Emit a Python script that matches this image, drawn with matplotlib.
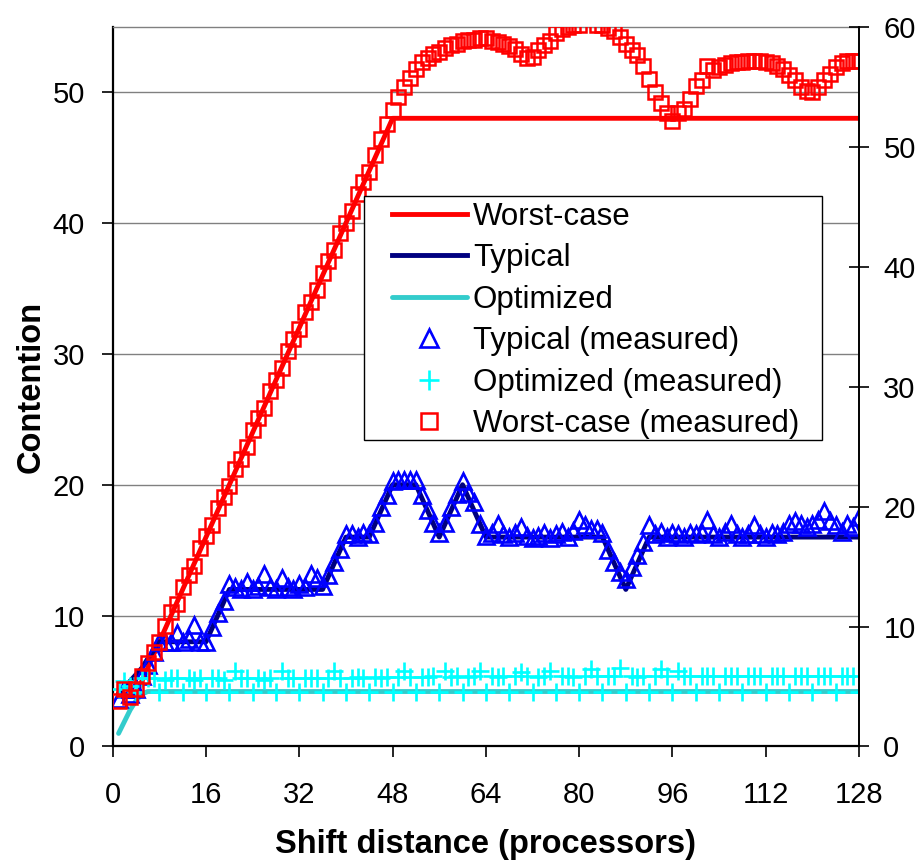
import matplotlib.pyplot as plt
from matplotlib.patches import Rectangle

plt.rcParams['font.family'] = ['Liberation Sans', 'DejaVu Sans']

# shift distance, one point per processor offset
shift = list(range(1, 129))

worst_line = [
    4, 4, 4, 4, 5, 6, 7, 8, 9, 10, 11, 12, 13, 14, 15, 16,
    17, 18, 19, 20, 21, 22, 23, 24, 25, 26, 27, 28, 29, 30, 31, 32,
    33, 34, 35, 36, 37, 38, 39, 40, 41, 42, 43, 44, 45, 46, 47, 48,
    48, 48, 48, 48, 48, 48, 48, 48, 48, 48, 48, 48, 48, 48, 48, 48,
    48, 48, 48, 48, 48, 48, 48, 48, 48, 48, 48, 48, 48, 48, 48, 48,
    48, 48, 48, 48, 48, 48, 48, 48, 48, 48, 48, 48, 48, 48, 48, 48,
    48, 48, 48, 48, 48, 48, 48, 48, 48, 48, 48, 48, 48, 48, 48, 48,
    48, 48, 48, 48, 48, 48, 48, 48, 48, 48, 48, 48, 48, 48, 48, 48,
]

typical_line = [
    4, 4.5, 5, 5.5, 6, 6.7, 7.3, 8, 8, 8, 8, 8, 8, 8, 8, 8,
    9, 10, 11, 12, 12, 12, 12, 12, 12, 12, 12, 12, 12, 12, 12, 12,
    12, 12, 12, 12, 13, 14, 15, 16, 16, 16, 16, 16, 17, 18, 19, 20,
    20, 20, 20, 20, 19, 18, 17, 16, 17, 18, 19, 20, 19, 18, 17, 16,
    16, 16, 16, 16, 16, 16, 16, 16, 16, 16, 16, 16, 16, 16, 16, 16,
    16, 16, 16, 16, 15, 14, 13, 12, 13, 14, 15, 16, 16, 16, 16, 16,
    16, 16, 16, 16, 16, 16, 16, 16, 16, 16, 16, 16, 16, 16, 16, 16,
    16, 16, 16, 16, 16, 16, 16, 16, 16, 16, 16, 16, 16, 16, 16, 16,
]

optimized_line = [
    1.0, 1.9, 2.8, 3.5, 4.0, 4.2, 4.2, 4.2, 4.2, 4.2, 4.2, 4.2, 4.2, 4.2, 4.2, 4.2,
    4.2, 4.2, 4.2, 4.2, 4.2, 4.2, 4.2, 4.2, 4.2, 4.2, 4.2, 4.2, 4.2, 4.2, 4.2, 4.2,
    4.2, 4.2, 4.2, 4.2, 4.2, 4.2, 4.2, 4.2, 4.2, 4.2, 4.2, 4.2, 4.2, 4.2, 4.2, 4.2,
    4.2, 4.2, 4.2, 4.2, 4.2, 4.2, 4.2, 4.2, 4.2, 4.2, 4.2, 4.2, 4.2, 4.2, 4.2, 4.2,
    4.2, 4.2, 4.2, 4.2, 4.2, 4.2, 4.2, 4.2, 4.2, 4.2, 4.2, 4.2, 4.2, 4.2, 4.2, 4.2,
    4.2, 4.2, 4.2, 4.2, 4.2, 4.2, 4.2, 4.2, 4.2, 4.2, 4.2, 4.2, 4.2, 4.2, 4.2, 4.2,
    4.2, 4.2, 4.2, 4.2, 4.2, 4.2, 4.2, 4.2, 4.2, 4.2, 4.2, 4.2, 4.2, 4.2, 4.2, 4.2,
    4.2, 4.2, 4.2, 4.2, 4.2, 4.2, 4.2, 4.2, 4.2, 4.2, 4.2, 4.2, 4.2, 4.2, 4.2, 4.2,
]

typical_meas = [
    3.6, 4.4, 4.0, 4.4, 5.4, 6.2, 7.2, 8.0, 8.0, 8.0, 8.7, 8.0, 8.2, 9.3, 8.0, 8.0,
    9.1, 10.2, 11.1, 12.4, 12.2, 12.0, 12.6, 12.0, 12.3, 13.2, 12.2, 12.0, 12.9, 12.2, 12.0, 12.4,
    12.2, 13.2, 12.9, 12.3, 13.1, 14.1, 15.1, 16.2, 16.2, 16.0, 16.3, 16.2, 17.1, 18.3, 19.2, 20.3,
    20.4, 20.4, 20.4, 20.4, 19.2, 18.1, 17.1, 16.3, 17.1, 18.3, 19.3, 20.3, 19.4, 18.7, 17.0, 16.1,
    16.3, 17.0, 16.2, 16.0, 16.3, 16.8, 16.1, 15.9, 16.1, 16.3, 15.9, 16.2, 16.4, 16.0, 16.5, 17.3,
    16.9, 16.6, 16.6, 16.3, 15.0, 14.1, 13.3, 12.8, 13.7, 14.6, 15.6, 16.9, 16.2, 16.4, 16.0, 16.3,
    16.2, 16.0, 16.3, 16.2, 16.3, 17.3, 16.2, 16.0, 16.4, 17.0, 16.2, 16.0, 16.2, 16.9, 16.2, 16.0,
    16.3, 16.2, 16.4, 17.0, 17.2, 17.0, 16.8, 17.0, 17.3, 18.0, 17.2, 16.9, 16.4, 17.0, 16.8, 17.5,
]

optimized_meas = [
    4.4, 5.0, 4.6, 4.2, 5.2, 5.2, 5.2, 4.2, 5.1, 5.2, 5.2, 4.2, 5.2, 5.1, 5.2, 4.2,
    5.2, 5.2, 5.1, 4.2, 5.8, 5.2, 5.2, 4.2, 5.2, 5.1, 5.2, 4.2, 5.8, 5.2, 5.2, 4.2,
    5.2, 5.2, 5.2, 4.2, 5.2, 5.8, 5.2, 4.2, 5.2, 5.3, 5.2, 4.2, 5.3, 5.2, 5.3, 4.2,
    5.3, 5.8, 5.3, 4.2, 5.3, 5.3, 5.4, 4.2, 5.8, 5.3, 5.4, 4.2, 5.3, 5.4, 5.8, 4.2,
    5.4, 5.3, 5.4, 4.2, 5.4, 5.7, 5.4, 4.2, 5.3, 5.4, 5.8, 4.2, 5.4, 5.4, 5.3, 4.2,
    5.4, 5.9, 5.4, 4.2, 5.4, 5.4, 6.0, 4.2, 5.4, 5.3, 5.4, 4.2, 5.4, 5.9, 5.4, 4.2,
    5.8, 5.4, 5.4, 4.2, 5.4, 5.4, 5.4, 4.2, 5.4, 5.4, 5.4, 4.2, 5.4, 5.4, 5.4, 4.2,
    5.4, 5.4, 5.4, 4.2, 5.4, 5.4, 5.4, 4.2, 5.4, 5.4, 5.4, 4.2, 5.4, 5.4, 5.4, 4.2,
]

worst_meas = [
    3.5, 4.4, 3.8, 4.4, 5.4, 6.4, 7.2, 8.0, 9.2, 10.3, 10.9, 12.2, 13.1, 13.8, 15.2, 16.1,
    16.9, 18.2, 19.1, 19.9, 21.2, 22.0, 22.9, 24.2, 25.1, 25.9, 27.2, 28.0, 28.9, 30.2, 31.1, 31.9,
    33.2, 34.0, 34.9, 36.2, 37.1, 37.9, 39.2, 40.0, 40.9, 42.2, 43.1, 43.9, 45.2, 46.4, 47.6, 48.6,
    49.6, 50.4, 51.1, 51.8, 52.3, 52.6, 52.9, 53.1, 53.4, 53.6, 53.7, 53.9, 54.0, 54.0, 54.1, 54.1,
    53.9, 53.8, 53.7, 53.5, 53.3, 52.9, 52.6, 52.7, 53.2, 53.6, 53.9, 54.5, 54.8, 55.0, 55.1, 55.1,
    56.0, 56.2, 55.1, 55.1, 54.9, 54.7, 54.2, 53.7, 53.2, 52.8, 52.0, 51.0, 50.0, 49.2, 48.4, 47.8,
    48.4, 48.7, 49.5, 50.5, 50.9, 52.0, 51.7, 51.9, 52.1, 52.2, 52.3, 52.3, 52.4, 52.4, 52.4, 52.3,
    52.2, 52.0, 51.8, 51.3, 50.9, 50.4, 50.1, 50.0, 50.4, 50.9, 51.4, 51.9, 52.2, 52.4, 52.4, 52.4,
]

x_ticks = [0, 16, 32, 48, 64, 80, 96, 112, 128]
left_ticks = [0, 10, 20, 30, 40, 50]
right_ticks = [0, 10, 20, 30, 40, 50, 60]

fig = plt.figure(figsize=(9.24, 8.61), dpi=100)
ax = fig.add_axes([0.122, 0.133, 0.8077, 0.836])

ax.plot(shift, worst_line, color='#FF0000', lw=3.5, label='Worst-case', zorder=3)
ax.plot(shift, typical_line, color='#000080', lw=3.5, label='Typical', zorder=3)
ax.plot(shift, optimized_line, color='#33CCCC', lw=3.5, label='Optimized', zorder=3,
        solid_capstyle='round')
ax.plot(shift, typical_meas, ls='none', marker='^', ms=12, mfc='none', mec='#0000FF',
        mew=1.9, label='Typical (measured)', zorder=4)
ax.plot(shift, optimized_meas, ls='none', marker='+', ms=12.5, mec='#00FFFF',
        mew=1.9, label='Optimized (measured)', zorder=4)
ax.plot(shift, worst_meas, ls='none', marker='s', ms=10, mfc='none', mec='#FF0000',
        mew=1.8, label='Worst-case (measured)', zorder=4)

ax.set_xlim(0, 128)
ax.set_ylim(0, 55)
ax.set_xticks(x_ticks)
ax.set_yticks(left_ticks)
ax.tick_params(axis='x', direction='out', length=8, width=1.2, pad=17, labelsize=21)
ax.tick_params(axis='y', direction='out', length=8, width=1.2, pad=12, labelsize=21)
ax.yaxis.grid(True, color='#808080', lw=1.0)
ax.set_axisbelow(True)

for side in ('left', 'bottom'):
    ax.spines[side].set_linewidth(1.6)
ax.spines['top'].set_color('#808080')
ax.spines['top'].set_linewidth(1.0)
ax.spines['right'].set_visible(False)

ax.set_xlabel('Shift distance (processors)', fontsize=23.5, fontweight='bold', labelpad=14)
ax.set_ylabel('Contention', fontsize=23.5, fontweight='bold', labelpad=4)

ax2 = ax.twinx()
ax2.set_ylim(0, 60)
ax2.set_yticks(right_ticks)
ax2.tick_params(axis='y', direction='inout', length=15, width=1.2, pad=10, labelsize=21)
ax2.spines['right'].set_linewidth(1.4)
for side in ('left', 'top', 'bottom'):
    ax2.spines[side].set_visible(False)

# legend box, with the entries indented inside it
box = Rectangle((0.337, 0.426), 0.613, 0.339, transform=ax2.transAxes,
                facecolor='white', edgecolor='black', lw=1.0, zorder=5)
ax2.add_patch(box)

handles, labels = ax.get_legend_handles_labels()
leg = ax2.legend(handles, labels, loc='upper left', bbox_to_anchor=(0.374, 0.757),
                 fontsize=22.5, frameon=False, borderpad=0, borderaxespad=0,
                 labelspacing=0.37, handlelength=2.4, handletextpad=0.19,
                 markerscale=1.1, numpoints=1)
leg.set_zorder(6)

fig.savefig('out.png', dpi=100)
